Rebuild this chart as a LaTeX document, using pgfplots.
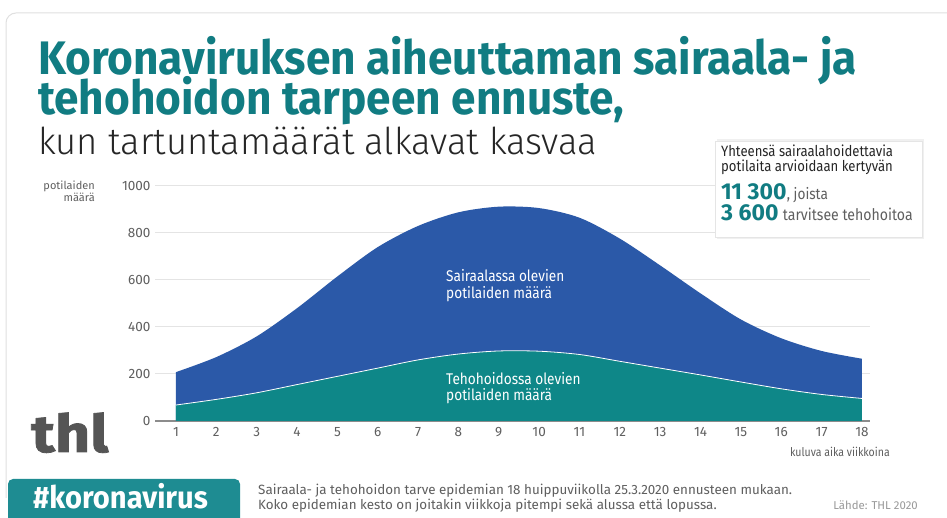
\documentclass[border=0pt]{standalone}
\usepackage{pgfplots}
\pgfplotsset{compat=1.18}
\usepackage{fontspec}
\setmainfont{Fira Sans}
\newfontfamily\titlefont[FakeStretch=0.94]{Fira Sans}
\newfontfamily\condfont[FakeStretch=0.88]{Fira Sans}
\newfontfamily\lightfont[FakeStretch=0.985]{Fira Sans Light}
\newfontfamily\logofont[FakeStretch=1.18,FakeBold=1.5]{Fira Sans Bold}
\definecolor{titleteal}{RGB}{17,124,130}
\definecolor{hospblue}{RGB}{43,89,168}
\definecolor{icuteal}{RGB}{14,135,136}
\definecolor{footteal}{RGB}{30,140,146}
\definecolor{axisgray}{RGB}{140,140,140}
\definecolor{gridgray}{RGB}{228,228,228}
\definecolor{labelgray}{RGB}{95,95,95}
\definecolor{logogray}{RGB}{85,85,85}

\pgfplotstableread{
week hosp
1 208
2 272
3 360
4 480
5 615
6 740
7 830
8 888
9 912
10 906
11 865
12 776
13 662
14 543
15 432
16 352
17 298
18 265
}\hospdata

\pgfplotstableread{
week icu
1 68
2 92
3 120
4 155
5 190
6 225
7 260
8 285
9 298
10 297
11 283
12 254
13 225
14 196
15 166
16 137
17 113
18 96
}\icudata

\begin{document}
\begin{tikzpicture}[x=1pt,y=1pt]
\useasboundingbox (0,0) rectangle (947,518);
\fill[white] (0,0) rectangle (947,518);
% card border
\draw[black!12, line width=1pt, rounded corners=10pt] (980,505) -- (6,505) -- (6,20);

% titles
\node[anchor=base west, inner sep=0, text=titleteal, font=\titlefont\bfseries\fontsize{47}{47}\selectfont] at (38,443) {Koronaviruksen aiheuttaman sairaala- ja};
\node[anchor=base west, inner sep=0, text=titleteal, font=\titlefont\bfseries\fontsize{47}{47}\selectfont] at (38,403) {tehohoidon tarpeen ennuste,};
\node[anchor=base west, inner sep=0, text=black!85, font=\lightfont\fontsize{37}{37}\selectfont] at (38,363) {kun tartuntamäärät alkavat kasvaa};

% y label
\node[anchor=north east, inner sep=0, align=right, text=labelgray, font=\fontsize{11}{12}\selectfont] at (95,337) {potilaiden\\määrä};

\begin{axis}[
  at={(155pt,97pt)}, anchor=south west,
  scale only axis, width=715pt, height=235pt,
  xmin=0.48, xmax=18.2, ymin=0, ymax=1000,
  xtick={1,...,18}, ytick={0,200,...,1000},
  axis y line*=left, axis x line*=bottom,
  y axis line style={draw=none},
  x axis line style={draw=axisgray, line width=1.5pt, -},
  major tick length=0pt,
  ymajorgrids, grid style={gridgray, line width=1pt},
  tick label style={font=\fontsize{13.5}{15}\selectfont, text=labelgray},
  /pgf/number format/assume math mode=true,
  /pgf/number format/1000 sep={},
  xticklabel style={yshift=-3pt},
  yticklabel style={xshift=-1pt},
  clip=false,
]
\addplot[fill=hospblue, draw=none, smooth] table[x=week, y=hosp] {\hospdata} \closedcycle;
\addplot[fill=icuteal, draw=none, smooth] table[x=week, y=icu] {\icudata} \closedcycle;
\addplot[white, line width=0.8pt, smooth] table[x=week, y=icu] {\icudata};
\end{axis}

% area labels
\node[anchor=base west, inner sep=0, text=white, font=\condfont\fontsize{15.5}{17}\selectfont] at (446,236) {Sairaalassa olevien};
\node[anchor=base west, inner sep=0, text=white, font=\condfont\fontsize{15.5}{17}\selectfont] at (446,219) {potilaiden määrä};
\node[anchor=base west, inner sep=0, text=white, font=\condfont\fontsize{15.5}{17}\selectfont] at (446,133) {Tehohoidossa olevien};
\node[anchor=base west, inner sep=0, text=white, font=\condfont\fontsize{15.5}{17}\selectfont] at (446,117) {potilaiden määrä};

% x label
\node[anchor=base east, inner sep=0, text=labelgray, font=\condfont\fontsize{12}{13}\selectfont] at (890,61) {kuluva aika viikkoina};

% info box
\fill[black!6] (717,279) rectangle (924,379);
\filldraw[fill=white, draw=black!10] (715,281) rectangle (922,377);
\node[anchor=base west, inner sep=0, text=black!85, font=\condfont\fontsize{14.9}{15}\selectfont] at (721,361) {Yhteensä sairaalahoidettavia};
\node[anchor=base west, inner sep=0, text=black!85, font=\condfont\fontsize{14.9}{15}\selectfont] at (721,346) {potilaita arvioidaan kertyvän};
\node[anchor=base west, inner sep=0, text=titleteal, font=\bfseries\fontsize{23}{23}\selectfont] (a) at (721,318) {11 300};
\node[anchor=base west, inner sep=0, text=labelgray, font=\condfont\fontsize{15.5}{15.5}\selectfont] at (a.base east) {, joista};
\node[anchor=base west, inner sep=0, text=titleteal, font=\bfseries\fontsize{23}{23}\selectfont] (b) at (721,297) {3 600};
\node[anchor=base west, inner sep=0, text=labelgray, font=\condfont\fontsize{16}{16}\selectfont] at ([xshift=4pt]b.base east) {tarvitsee tehohoitoa};

% logo
\node[anchor=base west, inner sep=0, text=logogray, font=\logofont\fontsize{52}{52}\selectfont] at (31,66) {thl};

% footer
\fill[footteal, rounded corners=5pt] (8,-8) rectangle (240,39);
\node[anchor=base west, inner sep=0, text=white, font=\titlefont\bfseries\fontsize{31}{31}\selectfont] at (33,9) {\#koronavirus};
\node[anchor=base west, inner sep=0, text=labelgray, font=\fontsize{13.4}{14}\selectfont] at (258,23) {Sairaala- ja tehohoidon tarve epidemian 18 huippuviikolla 25.3.2020 ennusteen mukaan.};
\node[anchor=base west, inner sep=0, text=labelgray, font=\fontsize{13.4}{14}\selectfont] at (258,8) {Koko epidemian kesto on joitakin viikkoja pitempi sekä alussa että lopussa.};
\node[anchor=base east, inner sep=0, text=black!40, font=\fontsize{11.4}{12}\selectfont] at (918,8) {Lähde: THL 2020};
\end{tikzpicture}
\end{document}
